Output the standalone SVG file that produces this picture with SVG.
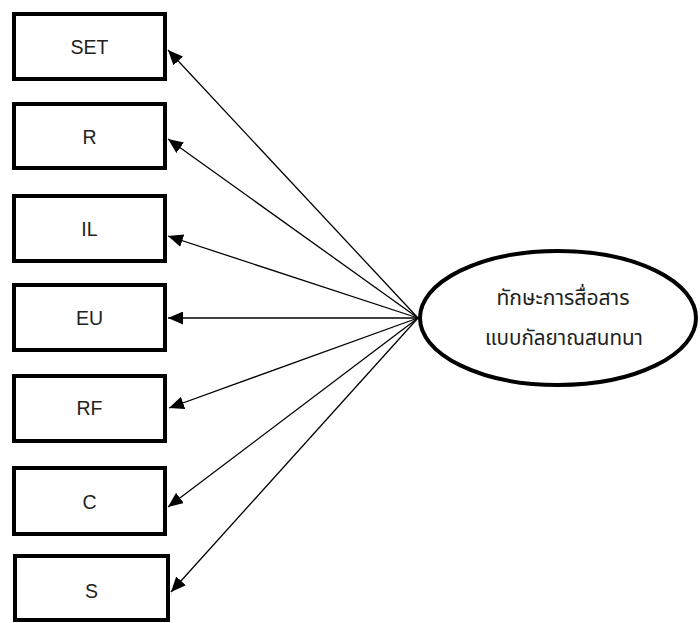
<svg xmlns="http://www.w3.org/2000/svg" width="700" height="623" viewBox="0 0 700 623">
<style>
.box{fill:#fff;stroke:#000;stroke-width:4}
.lbl{font-family:"Liberation Sans",Arial,sans-serif;font-size:19.5px;fill:#222;text-anchor:middle;dominant-baseline:central}
.th{font-family:"Noto Sans Thai","Noto Sans","DejaVu Sans",sans-serif;font-size:21px;fill:#222;text-anchor:middle}
.conn{stroke:#000;stroke-width:1.3;fill:none;marker-end:url(#ah)}
</style>
<defs>
<marker id="ah" markerUnits="userSpaceOnUse" markerWidth="15" markerHeight="13" refX="15" refY="6.5" orient="auto">
<path d="M0,0 L15,6.5 L0,13 z" fill="#000"/>
</marker>
</defs>
<rect width="700" height="623" fill="#fff"/>
<g id="connectors">
<line class="conn" x1="418" y1="318" x2="168" y2="50"/>
<line class="conn" x1="418" y1="318" x2="168" y2="139"/>
<line class="conn" x1="418" y1="318" x2="168" y2="236"/>
<line class="conn" x1="418" y1="318" x2="168" y2="318"/>
<line class="conn" x1="418" y1="318" x2="169" y2="408"/>
<line class="conn" x1="418" y1="318" x2="168" y2="507"/>
<line class="conn" x1="418" y1="318" x2="171" y2="592"/>
</g>
<g id="node-SET"><rect class="box" x="14" y="14" width="151" height="65"/><text class="lbl" x="89.5" y="47">SET</text></g>
<g id="node-R"><rect class="box" x="14" y="104" width="151" height="64"/><text class="lbl" x="89.5" y="137">R</text></g>
<g id="node-IL"><rect class="box" x="14" y="196" width="151" height="65"/><text class="lbl" x="89.5" y="229">IL</text></g>
<g id="node-EU"><rect class="box" x="14" y="285" width="151" height="65"/><text class="lbl" x="89.5" y="318">EU</text></g>
<g id="node-RF"><rect class="box" x="14" y="376" width="151" height="65"/><text class="lbl" x="89.5" y="408">RF</text></g>
<g id="node-C"><rect class="box" x="14" y="468" width="151" height="66"/><text class="lbl" x="89.5" y="502">C</text></g>
<g id="node-S"><rect class="box" x="15" y="556" width="153" height="64"/><text class="lbl" x="91.5" y="591">S</text></g>
<g id="node-latent">
<ellipse cx="558" cy="318" rx="138" ry="67" fill="#fff" stroke="#000" stroke-width="4"/>
<text class="th" x="563" y="305" textLength="133" lengthAdjust="spacingAndGlyphs">ทักษะการสื่อสาร</text>
<text class="th" x="564" y="345" textLength="158" lengthAdjust="spacingAndGlyphs">แบบกัลยาณสนทนา</text>
</g>
</svg>
